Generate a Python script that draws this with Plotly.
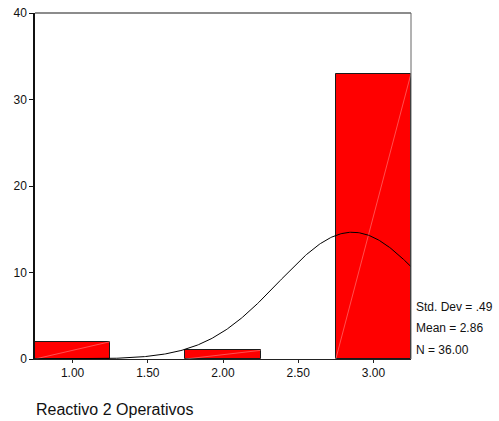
import numpy as np
import plotly.graph_objects as go

# Histogram bins (midpoints) and frequencies
bin_mids = [1.00, 2.00, 3.00]
counts = [2, 1, 33]
bin_width = 0.5

# Summary statistics
std_dev = 0.49
mean = 2.86
n = 36

x_ticks = [1.00, 1.50, 2.00, 2.50, 3.00]
x_tick_labels = ["1.00", "1.50", "2.00", "2.50", "3.00"]
y_ticks = [0, 10, 20, 30, 40]
x_title = "Reactivo 2 Operativos"

fig = go.Figure()

fig.add_trace(go.Bar(
    x=bin_mids, y=counts, width=bin_width,
    marker=dict(color="#FF0000", line=dict(color="#1a1a1a", width=1)),
    showlegend=False, hoverinfo="skip",
))

# Faint diagonal highlight across each bar
for m, c in zip(bin_mids, counts):
    fig.add_trace(go.Scatter(
        x=[m - bin_width / 2, m + bin_width / 2], y=[0, c],
        mode="lines", line=dict(color="rgba(255,190,190,0.7)", width=0.6),
        showlegend=False, hoverinfo="skip",
    ))

# Fitted normal curve scaled to the counts
xs = np.linspace(0.75, 3.25, 300)
ys = n * bin_width / (std_dev * np.sqrt(2 * np.pi)) * np.exp(-0.5 * ((xs - mean) / std_dev) ** 2)
fig.add_trace(go.Scatter(
    x=xs, y=ys, mode="lines", line=dict(color="black", width=1),
    showlegend=False, hoverinfo="skip",
))

font = dict(family="Liberation Sans, Arial, sans-serif", color="#111111")

fig.update_layout(
    width=499, height=421,
    margin=dict(l=35, r=88, t=13, b=62),
    paper_bgcolor="white", plot_bgcolor="white",
    bargap=0,
    font=dict(size=12, **font),
    xaxis=dict(
        range=[0.75, 3.25], tickvals=x_ticks, ticktext=x_tick_labels,
        showgrid=False, zeroline=False, showline=True, linecolor="#222222", linewidth=1,
        ticks="outside", ticklen=3, tickcolor="#222222", automargin=False,
        tickfont=dict(size=12, **font),
    ),
    yaxis=dict(
        range=[0, 40], tickvals=y_ticks,
        showgrid=False, zeroline=False, showline=True, linecolor="#111111", linewidth=1.5,
        ticks="outside", ticklen=4, tickcolor="#111111", automargin=False,
        tickfont=dict(size=12, **font),
    ),
    shapes=[
        dict(type="line", xref="x domain", yref="y domain", x0=0, x1=1, y0=1, y1=1,
             line=dict(color="#666666", width=1.5)),
        dict(type="line", xref="x domain", yref="y domain", x0=1, x1=1, y0=0, y1=1,
             line=dict(color="#666666", width=1)),
    ],
    annotations=[
        dict(text="Std. Dev = .49", xref="paper", yref="paper", x=1.008, y=0.150,
             xanchor="left", yanchor="middle", showarrow=False, font=dict(size=12, **font)),
        dict(text="Mean = 2.86", xref="paper", yref="paper", x=1.008, y=0.0896,
             xanchor="left", yanchor="middle", showarrow=False, font=dict(size=12, **font)),
        dict(text="N = 36.00", xref="paper", yref="paper", x=1.008, y=0.026,
             xanchor="left", yanchor="middle", showarrow=False, font=dict(size=12, **font)),
        dict(text=x_title, xref="paper", yref="paper", x=-0.003, y=-0.147,
             xanchor="left", yanchor="middle", showarrow=False, font=dict(size=16, **font)),
    ],
)

fig.write_html("out.html")
